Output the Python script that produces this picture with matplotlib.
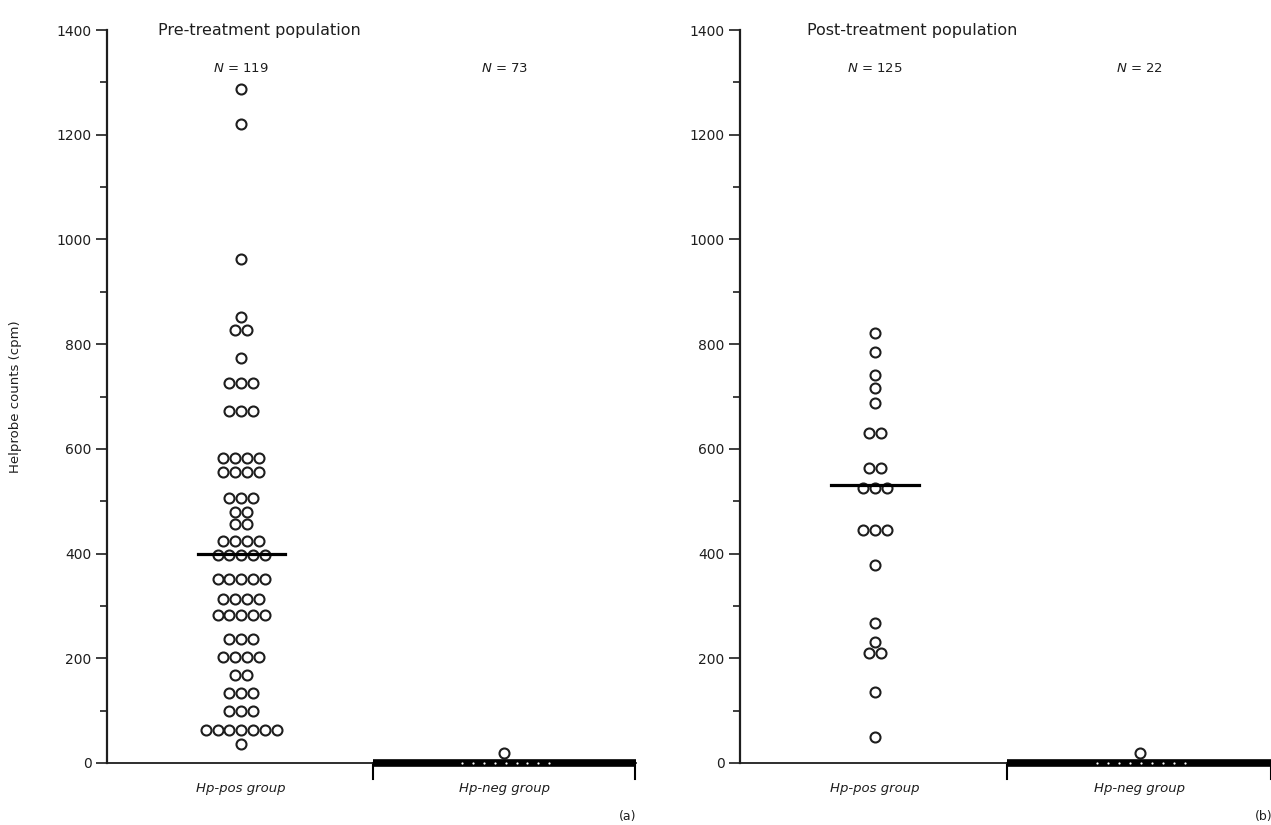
import numpy as np
import matplotlib.pyplot as plt
from matplotlib.ticker import MultipleLocator

# データ
pre_pos = [1288, 1220, 963, 852, 827, 827, 773,
           726, 726, 726, 673, 673, 673,
           582, 582, 582, 582, 556, 556, 556, 556,
           507, 507, 507, 479, 479, 456, 456,
           424, 424, 424, 424, 397, 397, 397, 397, 397,
           351, 351, 351, 351, 351, 313, 313, 313, 313,
           283, 283, 283, 283, 283, 237, 237, 237,
           203, 203, 203, 203, 168, 168, 134, 134, 134,
           100, 100, 100, 63, 63, 63, 63, 63, 63, 63, 36]
pre_neg = [19]
post_pos = [821, 785, 741, 716, 688, 630, 630, 563, 563,
            525, 525, 525, 445, 445, 445, 378, 267, 231,
            210, 210, 136, 50]
post_neg = [19]
pre_median = 400
post_median = 531

titles = ["Pre-treatment population", "Post-treatment population"]
n_labels = [["119", "73"], ["125", "22"]]
groups = ["Hp-pos group", "Hp-neg group"]
panel_tags = ["(a)", "(b)"]

INK = "#1e1e1e"
W, H = 1271, 825


def row_offsets(values, step=0.045):
    # 同じ値の点を横に並べる
    xs = []
    i = 0
    while i < len(values):
        j = i
        while j < len(values) and values[j] == values[i]:
            j += 1
        k = j - i
        for m in range(k):
            xs.append((m - (k - 1) / 2) * step)
        i = j
    return np.array(xs)


def draw_panel(ax, pos, neg, median, title, title_x, n_lab, tag):
    ax.set_xlim(0.49, 2.5)
    ax.set_ylim(0, 1400)
    for s in ["top", "right"]:
        ax.spines[s].set_visible(False)
    ax.spines["left"].set_linewidth(1.6)
    ax.spines["bottom"].set_linewidth(1.3)
    ax.spines["left"].set_color(INK)
    ax.spines["bottom"].set_color(INK)
    ax.set_xticks([])
    ax.yaxis.set_major_locator(MultipleLocator(200))
    ax.yaxis.set_minor_locator(MultipleLocator(100))
    ax.tick_params(axis="y", which="major", length=8, width=1.2,
                   labelsize=10, colors=INK, pad=3)
    ax.tick_params(axis="y", which="minor", length=5, width=1.2, colors=INK)

    # 陽性群
    xp = 1 + row_offsets(pos)
    ax.plot(xp, pos, "o", ms=7.2, mfc="white", mec=INK, mew=1.5,
            clip_on=False, zorder=3)
    ax.plot([1 - 0.165, 1 + 0.165], [median, median], color="black",
            lw=2.3, zorder=4)

    # 陰性群（0付近の帯）
    ax.plot([1.5, 2.5], [0, 0], color="black", lw=5.5,
            solid_capstyle="butt", clip_on=False, zorder=3)
    for xe in [1.5, 2.495]:
        ax.plot([xe, xe], [0, -30], color="black", lw=1.5, clip_on=False)
    ax.plot(np.linspace(1.84, 2.17, 9), np.zeros(9), "o", ms=1.6,
            mfc="white", mec="none", clip_on=False, zorder=4)
    ax.plot(2 + row_offsets(neg), neg, "o", ms=7.2, mfc="white", mec=INK,
            mew=1.5, clip_on=False, zorder=2)

    ax.text(title_x, 1400, title, ha="center", va="center", fontsize=11.5,
            color=INK)
    for x, n in zip([1, 2], n_lab):
        ax.text(x, 1327, r"$N$ = " + n, ha="center", va="center",
                fontsize=9.5, color=INK)
    for x, g in zip([1, 2], groups):
        ax.text(x, -48, g, ha="center", va="center", fontsize=9.5,
                style="italic", color=INK)
    ax.text(2.47, -103, tag, ha="center", va="center", fontsize=9,
            color=INK)


fig = plt.figure(figsize=(W / 100, H / 100), dpi=100)
ax1 = fig.add_axes([107 / W, 62 / H, 529 / W, 733 / H])
ax2 = fig.add_axes([740 / W, 62 / H, 532 / W, 733 / H])

draw_panel(ax1, pre_pos, pre_neg, pre_median, titles[0], 1.07,
           n_labels[0], panel_tags[0])
draw_panel(ax2, post_pos, post_neg, post_median, titles[1], 1.14,
           n_labels[1], panel_tags[1])

ax1.set_ylabel("Helprobe counts (cpm)", fontsize=9.5, color=INK)
ax1.yaxis.set_label_coords(-85 / 529, 0.5)

fig.savefig("out.png", dpi=100)
